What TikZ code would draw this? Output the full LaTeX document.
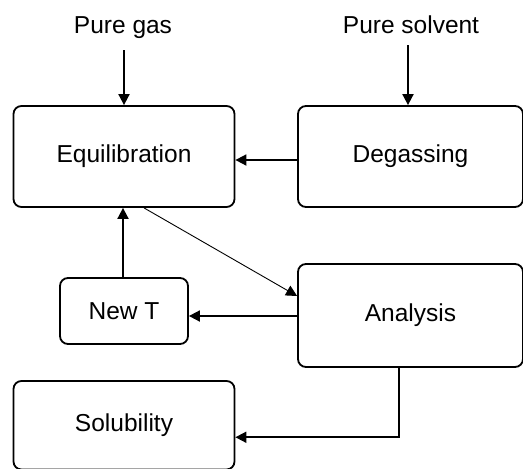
\documentclass[tikz,border=0pt]{standalone}
\usepackage{fontspec}
\setmainfont{Liberation Sans}
\usetikzlibrary{arrows.meta}
\begin{document}
\begin{tikzpicture}[x=1pt,y=-1pt,
  box/.style={draw, line width=1.8pt, rounded corners=8pt, inner sep=0pt},
  lbl/.style={inner xsep=0pt, inner ysep=12pt},
  arr/.style={line width=1.8pt, -{Triangle[length=11pt,width=11pt]}},
  thinarr/.style={line width=0.9pt, -{Triangle[length=11pt,width=11pt]}},
  every node/.append style={font=\fontsize{24.5}{29}\selectfont}]
\clip (0,0) rectangle (523,469);
\useasboundingbox (0,0) rectangle (523,469);
\node[box, minimum width=221pt, minimum height=101pt] (eq) at (124,156.5) {Equilibration};
\node[box, minimum width=225pt, minimum height=101pt] (deg) at (410.5,156.5) {Degassing};
\node[box, minimum width=225pt, minimum height=103pt] (ana) at (410.5,315.5) {Analysis};
\node[box, minimum width=128pt, minimum height=66pt] (newt) at (124,311) {New T};
\node[box, minimum width=221pt, minimum height=88.5pt] (sol) at (124,425.25) {Solubility};
\node[lbl, anchor=base] (pg) at (123,33) {Pure gas};
\node[lbl, anchor=base] (ps) at (411,33) {Pure solvent};
\draw[arr] (pg.south -| eq.north) -- (eq.north);
\draw[arr] ([xshift=-3pt]ps.south) -- ([xshift=-3pt]ps.south |- deg.north);
\draw[arr] ([yshift=-3.5pt]deg.west) -- ([yshift=-3.5pt]eq.east);
\draw[arr] ([xshift=-1pt]newt.north) -- ([xshift=-1pt]newt.north |- eq.south);
\draw[thinarr] ([xshift=20pt]eq.south) -- ([yshift=19.5pt]ana.west);
\draw[arr] ([yshift=-0.5pt]ana.west) -- ([yshift=-0.5pt]ana.west -| newt.east);
\draw[arr] ([xshift=-11.5pt]ana.south) |- ([yshift=-12pt]sol.east);
\end{tikzpicture}
\end{document}
